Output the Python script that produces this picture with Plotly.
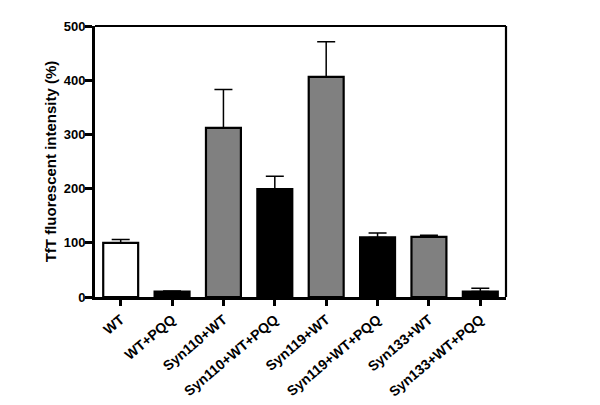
import plotly.graph_objects as go

categories = ["WT", "WT+PQQ", "Syn110+WT", "Syn110+WT+PQQ", "Syn119+WT",
              "Syn119+WT+PQQ", "Syn133+WT", "Syn133+WT+PQQ"]
values = [100, 10, 312, 199, 406, 110, 111, 10]
errors = [6, 1, 71, 24, 65, 8, 3, 6]
colors = ["#ffffff", "#000000", "#808080", "#000000", "#808080",
          "#000000", "#808080", "#000000"]
y_ticks = [0, 100, 200, 300, 400, 500]

font = "Liberation Sans, Arial, sans-serif"

fig = go.Figure()
fig.add_trace(go.Bar(
    x=list(range(len(categories))),
    y=values,
    width=0.68,
    marker=dict(color=colors, line=dict(color="#000000", width=2.2)),
    error_y=dict(type="data", array=errors, symmetric=False,
                 arrayminus=[0] * len(values),
                 color="#000000", thickness=1.5, width=9),
    showlegend=False,
))

fig.update_layout(
    width=600, height=405,
    margin=dict(l=87, r=102, t=18, b=116, autoexpand=False),
    paper_bgcolor="white", plot_bgcolor="white",
    font=dict(family=font, size=12, color="#000000"),
    xaxis=dict(
        range=[-0.5, 7.5],
        tickmode="array",
        tickvals=list(range(len(categories))),
        ticktext=categories,
        tickangle=-40,
        ticks="outside", ticklen=6, tickwidth=2.5, tickcolor="#000000",
        showline=True, linewidth=3, linecolor="#000000",
        showgrid=False, zeroline=False,
        automargin=False,
        tickfont=dict(family=font, size=14, color="#000000", weight="bold"),
    ),
    yaxis=dict(
        range=[0, 500],
        tickmode="array",
        tickvals=y_ticks,
        ticks="outside", ticklen=7, tickwidth=2.5, tickcolor="#000000",
        showline=True, linewidth=3, linecolor="#000000",
        showgrid=False, zeroline=False,
        automargin=False,
        ticklabelstandoff=-3,
        tickfont=dict(family=font, size=13, color="#000000", weight="bold"),
        title=dict(text="TfT fluorescent intensity (%)",
                   font=dict(family=font, size=15, color="#000000", weight="bold"),
                   standoff=4),
    ),
    shapes=[
        dict(type="line", xref="paper", yref="paper", x0=0, x1=1, y0=1, y1=1,
             line=dict(color="#000000", width=2.2)),
        dict(type="line", xref="paper", yref="paper", x0=1, x1=1, y0=0, y1=1,
             line=dict(color="#000000", width=2.2)),
    ],
)

fig.write_html("out.html")
